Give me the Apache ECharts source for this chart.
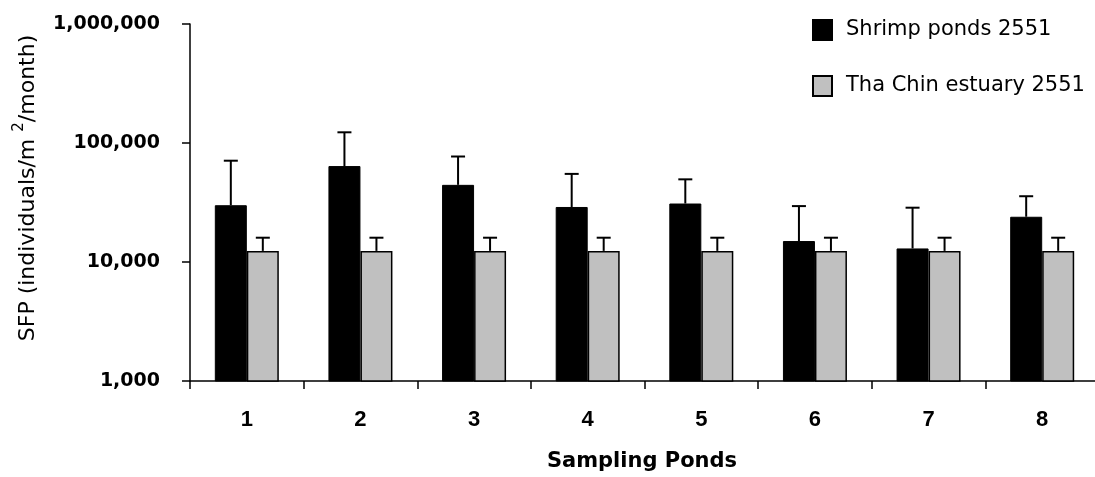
<!DOCTYPE html>
<html>
<head>
<meta charset="utf-8">
<script src="https://cdn.jsdelivr.net/npm/echarts@6/dist/echarts.min.js"></script>
<style>
  html, body { margin: 0; padding: 0; background: #fff; }
  #chart { width: 1095px; height: 477px; }
</style>
</head>
<body>
<div id="chart"></div>
<script>
// sampling ponds
const categories = ['1', '2', '3', '4', '5', '6', '7', '8'];

// SFP means (individuals/m2/month) and top of the error bars
const shrimpPonds = [30000, 64000, 44500, 29000, 31000, 15000, 13000, 24000];
const shrimpUpper = [71000, 123000, 77000, 55000, 49500, 29500, 28600, 35700];
const estuary = [12400, 12400, 12400, 12400, 12400, 12400, 12400, 12400];
const estuaryUpper = [16000, 16000, 16000, 16000, 16000, 16000, 16000, 16000];

const yTicks = [1000, 10000, 100000, 1000000];

const barW = 32;

function errData(means, uppers) {
    let res = [];
    for (let i = 0; i < means.length; i++) {
        res.push([i, means[i], uppers[i]]);
    }
    return res;
}

function errRender(offset) {
    return function (params, api) {
        let base = api.coord([api.value(0), api.value(1)]);
        let top = api.coord([api.value(0), api.value(2)]);
        let x = base[0] + offset;
        let cap = 7;
        let style = { stroke: '#000', lineWidth: 2, fill: null };
        return {
            type: 'group',
            children: [
                { type: 'line', shape: { x1: x, y1: base[1], x2: x, y2: top[1] }, style: style },
                { type: 'line', shape: { x1: x - cap, y1: top[1], x2: x + cap, y2: top[1] }, style: style }
            ]
        };
    };
}

let chart = echarts.init(document.getElementById('chart'));

let option = {
    animation: false,
    backgroundColor: '#fff',
    textStyle: { fontFamily: 'DejaVu Sans, sans-serif', color: '#000' },
    legend: {
        orient: 'vertical',
        left: 812,
        top: 19,
        padding: 0,
        itemWidth: 19,
        itemHeight: 20,
        itemGap: 34,
        icon: 'rect',
        data: ['Shrimp ponds 2551', 'Tha Chin estuary 2551'],
        textStyle: {
            fontSize: 21, color: '#000', fontFamily: 'DejaVu Sans, sans-serif',
            padding: [0, 0, 0, 9]
        }
    },
    grid: {
        left: 190,
        right: -4,
        top: 24,
        bottom: 96,
        outerBoundsMode: 'none'
    },
    xAxis: {
        type: 'category',
        data: categories,
        name: 'Sampling Ponds',
        nameLocation: 'middle',
        nameGap: 70,
        nameTextStyle: {
            fontSize: 21, fontWeight: 'bold', color: '#000',
            fontFamily: 'DejaVu Sans, sans-serif', padding: [0, 5, 0, 0]
        },
        axisLine: { lineStyle: { color: '#000', width: 1.5 } },
        axisTick: { show: true, length: 8, lineStyle: { color: '#000', width: 1.5 } },
        axisLabel: {
            fontSize: 22, fontWeight: 'bold', color: '#000', margin: 28,
            fontFamily: 'Liberation Sans, Arial, sans-serif'
        }
    },
    yAxis: {
        type: 'log',
        logBase: 10,
        min: yTicks[0],
        max: yTicks[yTicks.length - 1],
        name: '{a|SFP (individuals/m }{s|2}{a|/month)}',
        nameLocation: 'middle',
        nameRotate: 90,
        nameGap: 145,
        nameTextStyle: {
            padding: [0, 0, 0, 29],
            rich: {
                a: { fontSize: 22, color: '#000', fontFamily: 'DejaVu Sans, sans-serif' },
                s: { fontSize: 15, color: '#000', padding: [0, 0, 18, 0], fontFamily: 'DejaVu Sans, sans-serif' }
            }
        },
        axisLine: { show: true, lineStyle: { color: '#000', width: 1.5 } },
        axisTick: { show: true, length: 8, lineStyle: { color: '#000', width: 1.5 } },
        splitLine: { show: false },
        axisLabel: {
            fontSize: 19,
            fontWeight: 'bold',
            color: '#000',
            margin: 30,
            fontFamily: 'DejaVu Sans, sans-serif',
            formatter: function (v) { return Math.round(v).toLocaleString('en-US'); }
        }
    },
    series: [
        {
            name: 'Shrimp ponds 2551',
            type: 'bar',
            barWidth: barW,
            barGap: '0%',
            itemStyle: { color: '#000', borderColor: '#000', borderWidth: 1 },
            data: shrimpPonds
        },
        {
            name: 'Tha Chin estuary 2551',
            type: 'bar',
            barWidth: barW,
            barGap: '0%',
            itemStyle: { color: '#c0c0c0', borderColor: '#000', borderWidth: 1.5 },
            data: estuary
        },
        {
            type: 'custom',
            renderItem: errRender(-barW / 2),
            encode: { x: 0, y: [1, 2] },
            z: 3,
            data: errData(shrimpPonds, shrimpUpper)
        },
        {
            type: 'custom',
            renderItem: errRender(barW / 2),
            encode: { x: 0, y: [1, 2] },
            z: 3,
            data: errData(estuary, estuaryUpper)
        }
    ]
};

chart.setOption(option);
</script>
</body>
</html>
